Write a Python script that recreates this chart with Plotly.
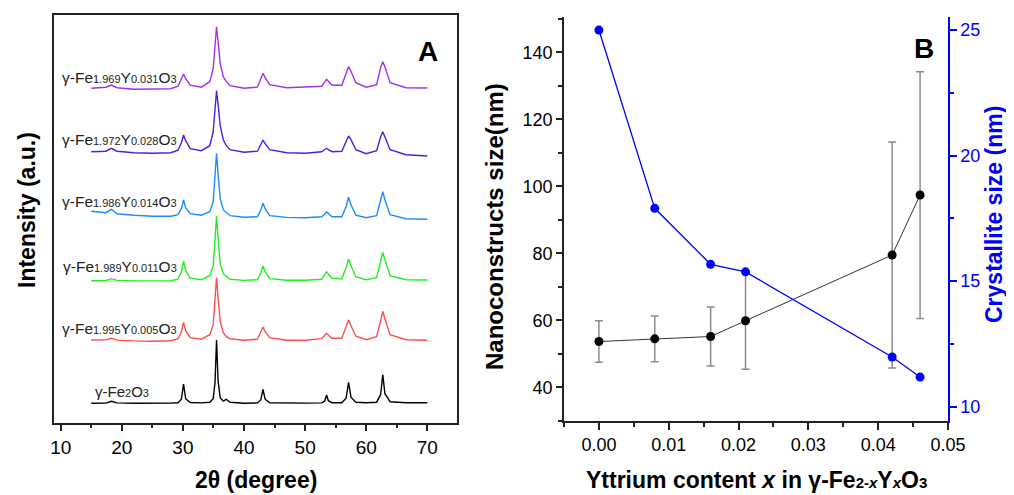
import plotly.graph_objects as go

# ---------------- Panel A: XRD patterns (knots) ----------------
two_theta = [15.0, 17.4, 18.3, 19.2, 22.0, 25.0, 28.0,
             29.2, 29.75, 30.1, 30.45, 31.2, 33.0, 34.4,
             34.95, 35.25, 35.5, 35.75, 36.1, 36.6, 37.1, 37.7, 40.0,
             42.2, 42.75, 43.1, 43.45, 44.2, 47.0, 50.0,
             52.7, 53.2, 53.5, 53.8, 54.4, 56.0,
             56.7, 57.1, 57.5, 58.3, 60.0,
             61.7, 62.35, 62.7, 63.05, 63.9, 66.5, 70.0]

int_fe2o3 = [19.5, 19.6, 21.4, 19.8, 19.4, 19.3, 19.6,
             20.0, 23.5, 38.7, 24.0, 20.2, 19.8, 20.5,
             24.0, 40.0, 82.7, 42.0, 25.0, 21.5, 23.4, 20.5, 19.5,
             19.8, 23.0, 33.4, 23.5, 20.0, 19.5, 19.6,
             19.8, 21.5, 27.7, 22.0, 20.0, 20.0,
             24.5, 40.4, 25.5, 20.5, 20.0,
             20.5, 28.0, 48.0, 29.0, 21.0, 20.0, 20.0]

int_y005 = [82.7, 82.8, 84.4, 82.6, 81.8, 81.5, 82.0,
            84.0, 91.0, 100.4, 92.0, 85.0, 83.5, 88.0,
            98.0, 122.0, 145.0, 125.0, 101.0, 90.0, 86.0, 84.0, 82.5,
            83.5, 90.0, 95.7, 91.0, 85.0, 82.5, 82.5,
            84.0, 87.0, 89.4, 87.5, 84.5, 84.5,
            95.0, 102.7, 97.0, 86.5, 83.0,
            86.0, 102.0, 111.4, 104.0, 88.0, 83.0, 82.5]

int_y011 = [142.0, 142.2, 144.0, 142.3, 141.8, 141.6, 142.0,
            143.5, 151.0, 161.7, 152.0, 144.5, 143.0, 147.0,
            157.0, 183.0, 206.7, 185.0, 159.0, 149.0, 146.5, 143.5, 142.3,
            143.0, 150.0, 156.7, 151.0, 144.0, 142.5, 142.5,
            143.5, 148.0, 151.0, 148.5, 144.5, 144.0,
            155.0, 163.7, 157.0, 146.0, 143.0,
            145.0, 162.0, 170.4, 163.0, 147.0, 143.0, 142.7]

int_y014 = [211.5, 210.0, 213.4, 209.0, 207.5, 206.5, 206.5,
            208.0, 214.0, 222.7, 215.0, 209.0, 207.5, 211.0,
            221.0, 247.0, 269.4, 249.0, 224.0, 213.0, 210.0, 207.0, 205.5,
            206.0, 213.0, 219.4, 214.0, 207.0, 205.3, 205.0,
            206.0, 208.5, 211.0, 209.0, 206.0, 206.0,
            216.0, 225.4, 218.0, 207.5, 205.0,
            207.0, 222.0, 231.0, 223.0, 208.0, 204.0, 203.4]

int_y028 = [271.0, 271.5, 274.4, 271.5, 270.0, 269.5, 270.0,
            272.5, 280.0, 287.7, 282.0, 274.0, 272.0, 277.0,
            291.0, 316.0, 332.0, 318.0, 297.0, 283.0, 277.0, 273.0, 270.5,
            271.5, 278.5, 282.7, 279.0, 273.0, 270.0, 269.5,
            271.0, 273.0, 274.4, 273.0, 271.0, 271.5,
            282.0, 286.7, 283.0, 273.0, 269.0,
            272.0, 286.0, 291.0, 286.0, 273.0, 268.0, 266.7]

int_y031 = [334.4, 335.5, 337.7, 335.0, 333.5, 333.4, 334.0,
            336.5, 343.0, 348.7, 344.0, 337.5, 335.5, 341.0,
            354.0, 379.0, 396.0, 381.0, 359.0, 346.0, 341.0, 337.0, 334.5,
            335.5, 344.0, 349.4, 345.0, 338.0, 335.0, 335.4,
            336.5, 340.5, 343.4, 341.5, 337.5, 337.5,
            350.0, 356.0, 351.5, 340.0, 335.5,
            338.0, 355.0, 361.0, 356.0, 340.0, 335.0, 334.7]

sub = "<span style='font-size:11px'>{}</span>"
label_fe2o3 = "γ-Fe" + sub.format("2") + "O" + sub.format("3")
label_y005 = "γ-Fe" + sub.format("1.995") + "Y" + sub.format("0.005") + "O" + sub.format("3")
label_y011 = "γ-Fe" + sub.format("1.989") + "Y" + sub.format("0.011") + "O" + sub.format("3")
label_y014 = "γ-Fe" + sub.format("1.986") + "Y" + sub.format("0.014") + "O" + sub.format("3")
label_y028 = "γ-Fe" + sub.format("1.972") + "Y" + sub.format("0.028") + "O" + sub.format("3")
label_y031 = "γ-Fe" + sub.format("1.969") + "Y" + sub.format("0.031") + "O" + sub.format("3")

xrd_tick_vals = [10, 20, 30, 40, 50, 60, 70]

# ---------------- Panel B ----------------
yttrium_x = [0.000, 0.008, 0.016, 0.021, 0.042, 0.046]
nano_size = [53.7, 54.5, 55.2, 59.9, 79.5, 97.4]
nano_err = [6.2, 6.85, 8.8, 14.5, 33.7, 36.8]
cryst_size = [25.0, 17.9, 15.67, 15.37, 11.98, 11.18]

FONT = "Liberation Sans, Arial, sans-serif"
BLUE = "#0000ff"

fig = go.Figure()

series = [
    (int_fe2o3, "#000000", label_fe2o3),
    (int_y005, "#ff4d4d", label_y005),
    (int_y011, "#22ee22", label_y011),
    (int_y014, "#1a8cff", label_y014),
    (int_y028, "#4a1fe6", label_y028),
    (int_y031, "#a030ee", label_y031),
]
for ys, col, lab in series:
    fig.add_trace(go.Scatter(x=two_theta, y=ys, mode="lines",
                             line=dict(color=col, width=1.4),
                             xaxis="x", yaxis="y", showlegend=False))

fig.add_trace(go.Scatter(
    x=yttrium_x, y=nano_size, mode="lines+markers",
    line=dict(color="#333333", width=1),
    marker=dict(color="black", size=9),
    error_y=dict(type="data", array=nano_err, visible=True,
                 color="#8c8c8c", thickness=1.5, width=4),
    xaxis="x2", yaxis="y2", showlegend=False))

fig.add_trace(go.Scatter(
    x=yttrium_x, y=cryst_size, mode="lines+markers",
    line=dict(color=BLUE, width=1.3),
    marker=dict(color=BLUE, size=9),
    xaxis="x2", yaxis="y3", showlegend=False))

# The page body has an 8 px default margin; size the figure so it fits the window.
OFF = 8
W, H = 1014 - OFF, 495 - OFF
def px(x):
    return (x - OFF) / W
def py(y):
    return 1 - (y - OFF) / H

tickfont = dict(family=FONT, size=18, color="black")

fig.update_layout(
    width=W, height=H,
    margin=dict(l=0, r=0, t=0, b=0),
    paper_bgcolor="white", plot_bgcolor="white",
    font=dict(family=FONT, color="black"),
    xaxis=dict(domain=[px(54.3), px(456.7)], range=[8.95, 74.8],
               tickvals=xrd_tick_vals, ticks="outside", ticklen=7, tickwidth=1.5,
               tickcolor="#222", minor=dict(ticks="outside", dtick=5, tick0=5, ticklen=4,
                                            tickwidth=1.5, tickcolor="#222"),
               showline=True, linecolor="#222", linewidth=1.5, mirror=True,
               showgrid=False, zeroline=False, tickfont=dict(family=FONT, size=19, color="black"),
               anchor="y", automargin=False),
    yaxis=dict(domain=[py(422.7), py(15)], range=[0, 407.7],
               showticklabels=False, ticks="", showline=True, linecolor="#222",
               linewidth=1.5, mirror=True, showgrid=False, zeroline=False, anchor="x",
               automargin=False),
    xaxis2=dict(domain=[px(564), px(948)], range=[-0.005, 0.05],
                dtick=0.01, tick0=0, tickformat=".2f", ticks="outside", ticklen=7,
                tickwidth=1.5, tickcolor="#222",
                minor=dict(ticks="outside", dtick=0.005, tick0=0, ticklen=4,
                           tickwidth=1.5, tickcolor="#222"),
                showline=True, linecolor="#222", linewidth=1.5,
                showgrid=False, zeroline=False, tickfont=tickfont, anchor="y2",
                automargin=False),
    xaxis3=dict(overlaying="x2", side="top", range=[-0.005, 0.05],
                dtick=0.005, tick0=0, ticks="inside", ticklen=5, tickwidth=1.5,
                tickcolor=BLUE, showticklabels=False, showline=True,
                linecolor=BLUE, linewidth=1.5, showgrid=False, zeroline=False,
                anchor="y2", automargin=False),
    yaxis2=dict(domain=[py(421), py(17)], range=[30, 150.5],
                dtick=20, tick0=40, ticks="outside", ticklen=6, tickwidth=1.5,
                tickcolor="#222",
                minor=dict(ticks="outside", dtick=10, tick0=30, ticklen=4,
                           tickwidth=1.5, tickcolor="#222"),
                showline=True, linecolor="#222", linewidth=1.5,
                showgrid=False, zeroline=False, tickfont=tickfont, anchor="x2",
                automargin=False),
    yaxis3=dict(overlaying="y2", side="right", range=[9.43, 25.52],
                dtick=5, tick0=10, ticks="outside", ticklen=7, tickwidth=1.5,
                tickcolor=BLUE,
                minor=dict(ticks="outside", dtick=2.5, tick0=10, ticklen=4,
                           tickwidth=1.5, tickcolor=BLUE),
                showline=True, linecolor=BLUE, linewidth=1.5,
                showgrid=False, zeroline=False,
                tickfont=dict(family=FONT, size=18, color=BLUE), anchor="x2",
                automargin=False),
)

label_y = [31, 94.4, 156, 221, 283.4, 345.7]
for i, (ys, col, lab) in enumerate(series):
    if i == 0:
        fig.add_annotation(x=15.3, y=label_y[i], xref="x", yref="y", text=lab,
                           showarrow=False, xanchor="left", yanchor="middle",
                           font=dict(family=FONT, size=15, color="#222"))
    else:
        fig.add_annotation(x=29.3, y=label_y[i], xref="x", yref="y", text=lab,
                           showarrow=False, xanchor="right", yanchor="middle",
                           font=dict(family=FONT, size=15.5, color="#222"))

def ann(x, y, text, size=24, color="black", angle=0):
    fig.add_annotation(x=px(x), y=py(y), xref="paper", yref="paper", text=text,
                       showarrow=False, xanchor="center", yanchor="middle",
                       textangle=angle, borderpad=0,
                       font=dict(family=FONT, size=size, color=color))

ann(428, 51, "<b>A</b>", size=28)
ann(924, 48, "<b>B</b>", size=28)
ann(27, 210, "<b>Intensity (a.u.)</b>", size=23, angle=-90)
ann(256, 480, "<b>2θ (degree)</b>", size=23)
ann(494, 227, "<b>Nanoconstructs size(nm)</b>", size=24, angle=-90)
ann(994, 215, "<b>Crystallite size (nm)</b>", size=23, color=BLUE, angle=-90)
ssub = "<span style='font-size:15px'>{}</span>"
ann(756, 480, "<b>Yttrium content <i>x</i> in γ-Fe" + ssub.format("2-<i>x</i>") +
    "Y" + ssub.format("<i>x</i>") + "O" + ssub.format("3") + "</b>", size=23)

fig.write_html("out.html")
